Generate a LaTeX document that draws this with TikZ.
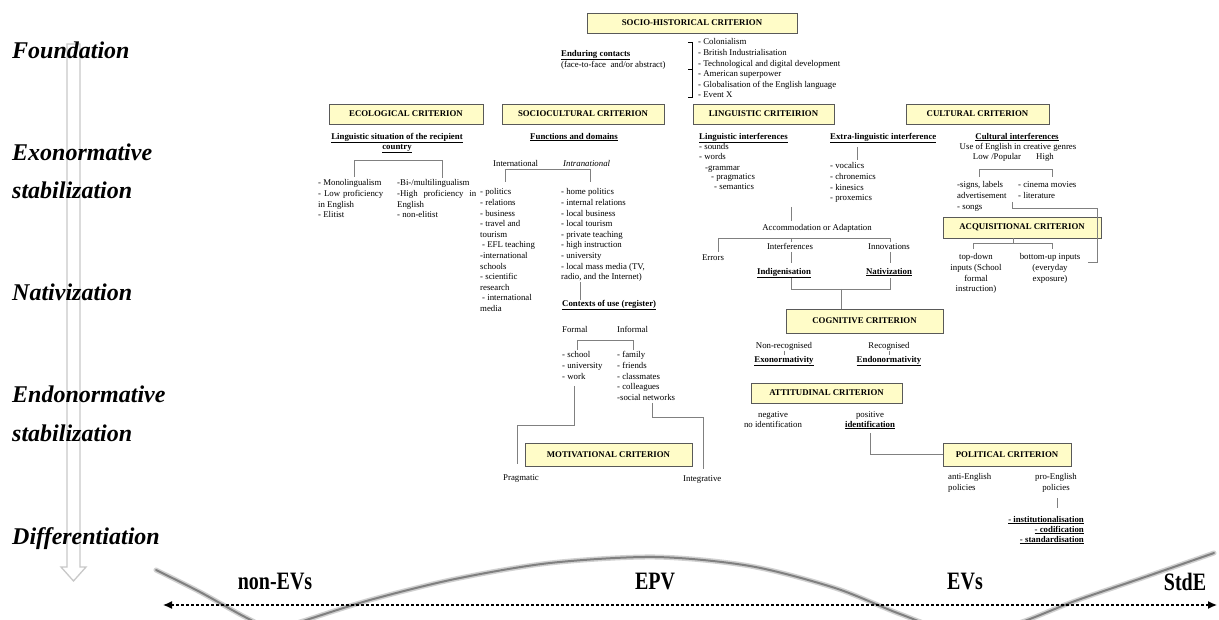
\documentclass[tikz,border=0pt]{standalone}
\usepackage{fontspec}
\setmainfont{Liberation Serif}
\usetikzlibrary{arrows.meta}
\definecolor{critfill}{RGB}{255,252,200}
\definecolor{connc}{RGB}{128,128,128}
\definecolor{stagec}{RGB}{200,200,200}
\newcommand\bodyf{\fontsize{8.8}{10.6}\selectfont}
\newcommand\ulb[1]{\underline{\textbf{#1}}}
\newcommand\tallword[1]{\scalebox{1}[1.25]{#1}}

\begin{document}
\begin{tikzpicture}[x=1pt,y=-1pt,
  crit/.style={draw=black!65, fill=critfill, line width=0.7pt, inner sep=0pt, font=\bodyf\bfseries},
  conn/.style={draw=connc, line width=0.8pt},
  tx/.style={inner sep=0pt, font=\bodyf, anchor=west, text height=6.2pt, text depth=2pt},
  txc/.style={tx, anchor=center},
  blk/.style={inner sep=0pt, font=\bodyf, align=left, anchor=north west},
  blkc/.style={blk, align=center, anchor=north},
  stage/.style={inner sep=0pt, anchor=west, text height=17pt, text depth=6pt,
    font=\fontsize{24}{28}\selectfont\bfseries\itshape},
  bandlbl/.style={inner sep=0pt, font=\fontsize{20}{22}\selectfont\bfseries},
  brace/.style={draw=black, line width=0.6pt}
]
\useasboundingbox (0,0) rectangle (1219,620);
\fill[white] (0,0) rectangle (1219,620);

% ---------- development stages (left column) ----------
\draw[draw=stagec, line width=1.3pt, fill=white]
  (67,44) -- (67,567) -- (61,567) -- (73.5,581) -- (86,567) -- (80,567) -- (80,44) -- cycle;
\node[stage] (st1) at (12,53)  {Foundation};
\node[stage] (st2) at (12,155) {Exonormative};
\node[stage] (st3) at (12,193) {stabilization};
\node[stage] (st4) at (12,295) {Nativization};
\node[stage] (st5) at (12,397) {Endonormative};
\node[stage] (st6) at (12,436) {stabilization};
\node[stage] (st7) at (12,539) {Differentiation};

% ---------- socio-historical criterion ----------
\node[crit, minimum width=210pt, minimum height=20pt] (sh) at (692,23) {SOCIO-HISTORICAL CRITERION};
\node[tx] (endur) at (561,54) {\ulb{Enduring contacts}};
\node[tx] (face) at (561,65) {(face-to-face\ \ and/or abstract)};
\draw[brace] (688,42) -- (692,42) -- (692,97) -- (688,97) (692,69) -- (688,69);
\node[blk] (hist) at (698,38.5) {- Colonialism\\- British Industrialisation\\- Technological and digital development\\- American superpower\\- Globalisation of the English language\\- Event X};

% ---------- row of criteria ----------
\node[crit, minimum width=154pt, minimum height=20pt] (eco) at (406,114) {ECOLOGICAL CRITERION};
\node[crit, minimum width=162pt, minimum height=20pt] (soc) at (583,114) {SOCIOCULTURAL CRITERION};
\node[crit, minimum width=141pt, minimum height=20pt] (ling) at (763.5,114) {LINGUISTIC CRITEIRION};
\node[crit, minimum width=143pt, minimum height=20pt] (cult) at (977.5,114) {CULTURAL CRITERION};

% ---------- ecological ----------
\node[txc] (eco1) at (397,137) {\ulb{Linguistic situation of the recipient}};
\node[txc] (eco2) at (397,147) {\ulb{country}};
\coordinate (ecoA) at (354,177);
\coordinate (ecoB) at (442,178);
\draw[conn] (ecoA) -- (354,160) -- (442,160) -- (ecoB);
\node[blk] (ecoL) at (318,179.5) {- Monolingualism\\\makebox[65pt][s]{- Low proficiency}\\in English\\- Elitist};
\node[blk] (ecoR) at (397,179.5) {-Bi-/multilingualism\\\makebox[79pt][s]{-High proficiency in}\\English\\- non-elitist};

% ---------- sociocultural ----------
\node[txc] (fd) at (574,137) {\ulb{Functions and domains}};
\node[tx] (intl) at (493,164) {International};
\node[tx] (intra) at (563,164) {\textit{Intranational}};
\draw[conn] (505,182) -- (505,169) -- (590,169) -- (590,182);
\node[blk] (socL) at (480,188.5) {- politics\\- relations\\- business\\- travel and\\tourism\\\hspace{2pt}- EFL teaching\\-international\\schools\\- scientific\\research\\\hspace{2pt}- international\\media};
\node[blk] (socR) at (561,188.5) {- home politics\\- internal relations\\- local business\\- local tourism\\- private teaching\\- high instruction\\- university\\- local mass media (TV,\\radio, and the Internet)};
\node[tx] (ctx) at (562,304) {\ulb{Contexts of use (register)}};
\draw[conn] (580,282) -- (ctx.north -| 580,0);
\node[tx] (formal) at (562,330) {Formal};
\node[tx] (informal) at (617,330) {Informal};
\draw[conn] (577,350) -- (577,340) -- (633,340) -- (633,350);
\node[blk] (formL) at (562,351.5) {- school\\- university\\- work};
\node[blk] (formR) at (617,351.5) {- family\\- friends\\- classmates\\- colleagues\\-social networks};

% ---------- motivational ----------
\node[crit, minimum width=167pt, minimum height=23pt] (mot) at (608.5,454.5) {MOTIVATIONAL CRITERION};
\node[tx] (prag) at (503,478) {Pragmatic};
\node[tx] (integ) at (683,479) {Integrative};
\draw[conn] (574,386) -- (574,425) -- (517,425) -- (517,464);
\draw[conn] (652,403) -- (652,417) -- (703,417) -- (703,469);

% ---------- linguistic ----------
\node[tx] (li) at (699,137) {\ulb{Linguistic interferences}};
\node[tx] (li1) at (699,147) {- sounds};
\node[tx] (li2) at (699,157) {- words};
\node[tx] (li3) at (705,168) {-grammar};
\node[tx] (li4) at (711,177) {- pragmatics};
\node[tx] (li5) at (714,187) {- semantics};
\node[tx] (eli) at (830,137) {\ulb{Extra-linguistic interference}};
\draw[conn] (857,147) -- (857,160);
\node[blk] (eliL) at (830,162.5) {- vocalics\\- chronemics\\- kinesics\\- proxemics};
\node[txc] (acc) at (817,228) {Accommodation or Adaptation};
\draw[conn] (791,207) -- (791,221);
\draw[conn] (718,252) -- (718,238) -- (890,238) -- (890,242);
\draw[conn] (791,238) -- (791,242);
\node[txc] (err) at (713,258) {Errors};
\node[txc] (intf) at (790,247) {Interferences};
\node[txc] (innov) at (889,247) {Innovations};
\node[txc] (indig) at (784,272) {\ulb{Indigenisation}};
\node[txc] (nativ) at (889,272) {\ulb{Nativization}};
\draw[conn] (791,252) -- (791,263);
\draw[conn] (890,252) -- (890,263);
\draw[conn] (791,278) -- (791,289) -- (890,289) -- (890,278);

% ---------- cognitive ----------
\node[crit, minimum width=157pt, minimum height=24pt] (cog) at (864.5,321) {COGNITIVE CRITERION};
\draw[conn] (841,289) -- (cog.north -| 841,0);
\node[txc] (nonrec) at (784,346) {Non-recognised};
\node[txc] (rec) at (889,346) {Recognised};
\node[txc] (exo) at (784,360) {\ulb{Exonormativity}};
\node[txc] (endo) at (889,360) {\ulb{Endonormativity}};
\draw[conn, line width=0.5pt] (784,351) -- (784,355);
\draw[conn, line width=0.5pt] (889,351) -- (889,355);

% ---------- attitudinal ----------
\node[crit, minimum width=151pt, minimum height=20pt] (att) at (826.5,393) {ATTITUDINAL CRITERION};
\node[txc] (neg) at (773,415) {negative};
\node[txc] (noid) at (773,425) {no identification};
\node[txc] (pos) at (870,415) {positive};
\node[txc] (ident) at (870,425) {\ulb{identification}};

% ---------- political ----------
\node[crit, minimum width=128pt, minimum height=23pt] (pol) at (1007,454.5) {POLITICAL CRITERION};
\draw[conn] (870,433) -- (870,454.5) -- (pol.west);
\node[blk] (anti) at (948,473.5) {anti-English\\policies};
\node[blkc] (pro) at (1056,473.5) {pro-English\\policies};
\draw[conn] (1057,498) -- (1057,508);
\node[tx, anchor=east] (inst) at (1084,520) {\ulb{- institutionalisation}};
\node[tx, anchor=east] (codi) at (1084,530) {\ulb{- codification}};
\node[tx, anchor=east] (stan) at (1084,540) {\ulb{- standardisation}};

% ---------- cultural ----------
\node[txc] (ci) at (1017,137) {\ulb{Cultural interferences}};
\node[txc] (ci1) at (1018,147) {Use of English in creative genres};
\node[txc] (low) at (997,157) {Low /Popular};
\node[txc] (high) at (1045,157) {High};
\draw[conn] (979,177) -- (979,169) -- (1052,169) -- (1052,177);
\node[blk] (cultL) at (957,181.5) {-signs, labels\\advertisement\\- songs};
\node[blk] (cultR) at (1018,181.5) {- cinema movies\\- literature};

% ---------- acquisitional ----------
\node[crit, minimum width=158pt, minimum height=21pt] (acq) at (1022,227.5) {ACQUISITIONAL CRITERION};
\draw[conn] (1012,202) -- (1012,208) -- (1097,208) -- (1097,262) -- (1088,262);
\draw[conn] (acq.south -| 1013,0) -- (1013,243);
\draw[conn] (973,249) -- (973,243) -- (1052,243) -- (1052,249);
\node[blkc] (td) at (976,253.5) {top-down\\inputs (School\\formal\\instruction)};
\node[blkc] (bu) at (1050,253.5) {bottom-up inputs\\(everyday\\exposure)};

% ---------- continuum at the bottom ----------
\begin{scope}
  \clip (0,0) rectangle (1219,620);
  \draw[black!18, line width=5pt, line cap=round]
    plot[smooth] coordinates {(156,570) (200,592) (245,617) (275,630) (300,622) (370,600) (455,579) (550,563) (655,557) (750,566) (835,588) (900,614) (955,632) (1012,625) (1075,601) (1145,577) (1214,553)};
  \draw[black!50, line width=2pt, line cap=round]
    plot[smooth] coordinates {(156,570) (200,592) (245,617) (275,630) (300,622) (370,600) (455,579) (550,563) (655,557) (750,566) (835,588) (900,614) (955,632) (1012,625) (1075,601) (1145,577) (1214,553)};
\end{scope}
\coordinate (lend) at (163,605);
\coordinate (rend) at (1217,605);
\draw[{Latex[length=9pt,width=8pt]}-{Latex[length=9pt,width=8pt]}, dash pattern=on 3pt off 2pt, line width=1.3pt] (lend) -- (rend);
\node[bandlbl] (nonev) at (275,582) {\tallword{non-EVs}};
\node[bandlbl] (epv) at (655,582) {\tallword{EPV}};
\node[bandlbl] (evs) at (965,582) {\tallword{EVs}};
\node[bandlbl] (stde) at (1185,582) {\tallword{StdE}};
\end{tikzpicture}
\end{document}
